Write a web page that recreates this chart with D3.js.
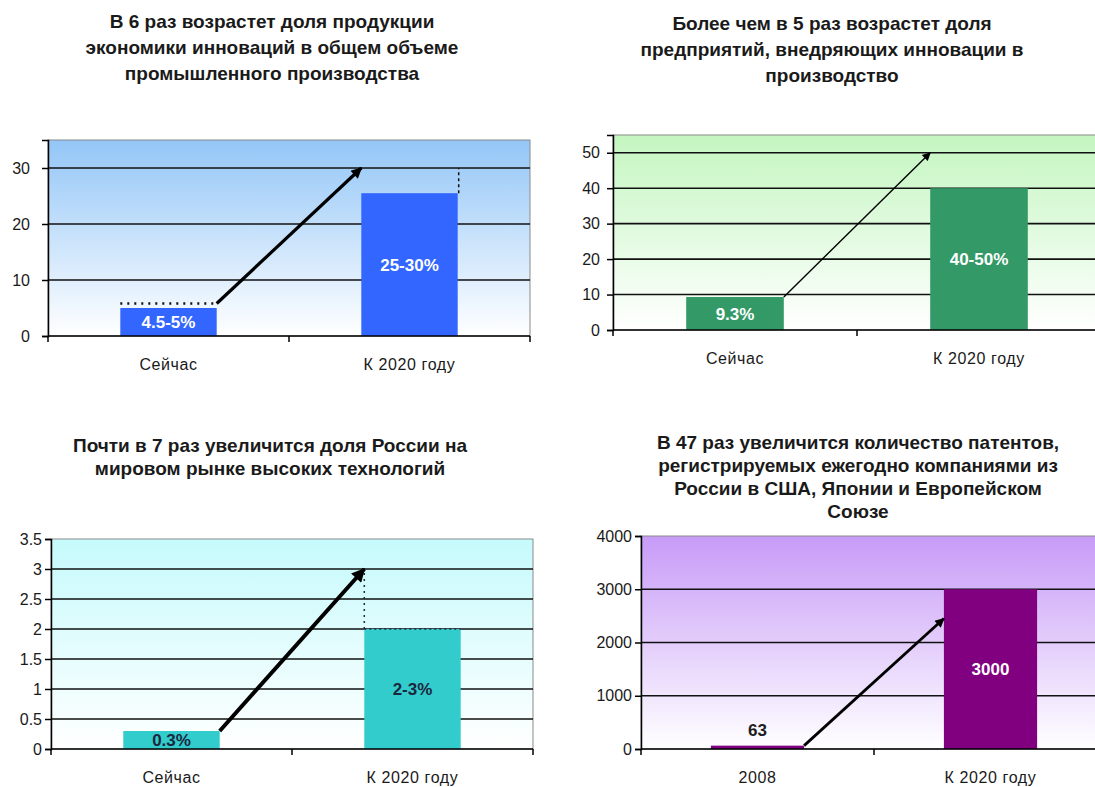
<!DOCTYPE html>
<html>
<head>
<meta charset="utf-8">
<script src="https://cdnjs.cloudflare.com/ajax/libs/d3/7.8.5/d3.min.js"></script>
<style>
  body { margin: 0; background: #fff; }
  svg { display: block; font-family: "Liberation Sans", Arial, sans-serif; }
</style>
</head>
<body>
<svg id="chart"></svg>
<script>
// --- data ---
const titles1 = ["В 6 раз возрастет доля продукции", "экономики инноваций в общем объеме", "промышленного производства"];
const cats1 = ["Сейчас", "К 2020 году"];
const vals1 = [5, 25.5];
const upper1 = [5.8, 30];
const labels1 = ["4.5-5%", "25-30%"];
const ticks1 = [0, 10, 20, 30];

const titles2 = ["Более чем в 5 раз возрастет доля", "предприятий, внедряющих инновации в", "производство"];
const cats2 = ["Сейчас", "К 2020 году"];
const vals2 = [9.3, 40];
const upper2 = [9.3, 50];
const labels2 = ["9.3%", "40-50%"];
const ticks2 = [0, 10, 20, 30, 40, 50];

const titles3 = ["Почти в 7 раз увеличится доля России на", "мировом рынке высоких технологий"];
const cats3 = ["Сейчас", "К 2020 году"];
const vals3 = [0.3, 2];
const upper3 = [0.3, 3];
const labels3 = ["0.3%", "2-3%"];
const ticks3 = [0, 0.5, 1, 1.5, 2, 2.5, 3, 3.5];

const titles4 = ["В 47 раз увеличится количество патентов,", "регистрируемых ежегодно компаниями из", "России в США, Японии и Европейском", "Союзе"];
const cats4 = ["2008", "К 2020 году"];
const vals4 = [63, 3000];
const upper4 = [63, 2450];
const labels4 = ["63", "3000"];
const ticks4 = [0, 1000, 2000, 3000, 4000];

const W = 1095, H = 787;
const svg = d3.select("#chart").attr("width", W).attr("height", H);
const defs = svg.append("defs");

const panels = [
  {id: "p1", titles: titles1, cats: cats1, vals: vals1, upper: upper1, labels: labels1, ticks: ticks1,
   yMax: 35, left: 48, right: 530, top: 140, bottom: 336, titleX: 272, titleY: 28, titleGap: 26,
   bg: "#93c6f7", bar: "#3366ff", labelColor: "#ffffff", labelPos: ["mid", "mid"], tickPad: 12,
   arrowW: 3.2, dotted: "p1", fmt: d3.format("d")},
  {id: "p2", titles: titles2, cats: cats2, vals: vals2, upper: upper2, labels: labels2, ticks: ticks2,
   yMax: 55, left: 613, right: 1101, top: 135, bottom: 330, titleX: 832, titleY: 30, titleGap: 26,
   bg: "#c4f6c0", bar: "#339966", labelColor: "#ffffff", labelPos: ["mid", "mid"], tickPad: 7,
   arrowW: 1.4, dotted: null, fmt: d3.format("d")},
  {id: "p3", titles: titles3, cats: cats3, vals: vals3, upper: upper3, labels: labels3, ticks: ticks3,
   yMax: 3.5, left: 51, right: 533, top: 539, bottom: 749, titleX: 270, titleY: 452, titleGap: 23,
   bg: "#c6fafc", bar: "#33cccc", labelColor: "#1c2740", labelPos: ["mid", "mid"], tickPad: 3,
   arrowW: 4, dotted: "p3", fmt: d => d},
  {id: "p4", titles: titles4, cats: cats4, vals: vals4, upper: upper4, labels: labels4, ticks: ticks4,
   yMax: 4000, left: 641, right: 1107, top: 536, bottom: 749, titleX: 858, titleY: 449, titleGap: 23,
   bg: "#c79bf7", bar: "#800080", labelColor: ["#1c1c1c", "#ffffff"], labelPos: ["above", "mid"], tickPad: 3,
   arrowW: 2.8, dotted: null, fmt: d3.format("d")}
];

panels.forEach(p => {
  const g = svg.append("g");

  // title
  g.append("text")
    .attr("x", p.titleX).attr("y", p.titleY)
    .attr("text-anchor", "middle")
    .attr("font-size", 19).attr("font-weight", "bold").attr("fill", "#1a1a1a")
    .selectAll("tspan").data(p.titles).join("tspan")
    .attr("x", p.titleX)
    .attr("dy", (d, i) => i === 0 ? 0 : p.titleGap)
    .text(d => d);

  const x = d3.scaleBand().domain(p.cats).range([p.left, p.right]).padding(0);
  const y = d3.scaleLinear().domain([0, p.yMax]).range([p.bottom, p.top]);
  const bw = x.bandwidth() * 0.4;
  const bx = d => x(d) + (x.bandwidth() - bw) / 2;

  // gradient background
  const grad = defs.append("linearGradient").attr("id", "bg-" + p.id)
    .attr("x1", 0).attr("y1", 0).attr("x2", 0).attr("y2", 1);
  grad.append("stop").attr("offset", "0%").attr("stop-color", p.bg);
  grad.append("stop").attr("offset", "100%").attr("stop-color", "#ffffff");

  g.append("rect")
    .attr("x", p.left).attr("y", y(p.yMax))
    .attr("width", p.right - p.left).attr("height", y(0) - y(p.yMax))
    .attr("fill", `url(#bg-${p.id})`)
    .attr("stroke", "#8a8a8a").attr("stroke-width", 1);

  // gridlines
  g.selectAll(".grid").data(p.ticks.filter(t => t > 0 && t < p.yMax)).join("line")
    .attr("x1", p.left).attr("x2", p.right)
    .attr("y1", d => y(d)).attr("y2", d => y(d))
    .attr("stroke", "#111").attr("stroke-width", 1.6);

  // bars
  g.selectAll(".bar").data(p.vals).join("rect")
    .attr("x", (d, i) => bx(p.cats[i]))
    .attr("y", d => y(d))
    .attr("width", bw)
    .attr("height", d => y(0) - y(d))
    .attr("fill", p.bar);

  // y axis
  const yAxis = d3.axisLeft(y).tickValues(p.ticks).tickSize(6).tickPadding(p.tickPad).tickFormat(p.fmt);
  const ya = g.append("g").attr("transform", `translate(${p.left},0)`).call(yAxis);
  ya.select(".domain").attr("stroke", "#000").attr("stroke-width", 1.5);
  ya.selectAll(".tick line").attr("stroke", "#000").attr("stroke-width", 1.5);
  ya.selectAll(".tick text").attr("font-size", 16).attr("fill", "#1a1a1a")
    .attr("font-family", "Liberation Sans, Arial, sans-serif");

  // x axis
  const xa = g.append("g").attr("transform", `translate(0,${y(0)})`);
  xa.append("line").attr("x1", p.left).attr("x2", p.right).attr("stroke", "#000").attr("stroke-width", 1.5);
  xa.selectAll(".xt").data(p.cats.map(c => x(c)).concat([p.right])).join("line")
    .attr("x1", d => d).attr("x2", d => d).attr("y1", 0).attr("y2", 6)
    .attr("stroke", "#000").attr("stroke-width", 1.5);
  xa.selectAll(".xl").data(p.cats).join("text")
    .attr("x", d => x(d) + x.bandwidth() / 2).attr("y", 34)
    .attr("text-anchor", "middle").attr("font-size", 16).attr("letter-spacing", 0.6)
    .attr("fill", "#1a1a1a")
    .text(d => d);

  // dotted range markers
  if (p.dotted === "p1") {
    g.append("line")
      .attr("x1", bx(p.cats[0])).attr("x2", bx(p.cats[0]) + bw)
      .attr("y1", y(p.upper[0])).attr("y2", y(p.upper[0]))
      .attr("stroke", "#111").attr("stroke-width", 2.5).attr("stroke-dasharray", "2,5");
    g.append("line")
      .attr("x1", bx(p.cats[1]) + bw + 1).attr("x2", bx(p.cats[1]) + bw + 1)
      .attr("y1", y(p.vals[1])).attr("y2", y(p.upper[1]))
      .attr("stroke", "#111").attr("stroke-width", 1.5).attr("stroke-dasharray", "3,3");
  }
  if (p.dotted === "p3") {
    g.append("line")
      .attr("x1", bx(p.cats[1])).attr("x2", bx(p.cats[1]) + bw)
      .attr("y1", y(p.vals[1])).attr("y2", y(p.vals[1]))
      .attr("stroke", "#1a2a3a").attr("stroke-width", 1.5).attr("stroke-dasharray", "2,3");
    g.append("line")
      .attr("x1", bx(p.cats[1])).attr("x2", bx(p.cats[1]))
      .attr("y1", y(p.vals[1])).attr("y2", y(p.upper[1]))
      .attr("stroke", "#1a2a3a").attr("stroke-width", 1.5).attr("stroke-dasharray", "2,4");
  }

  // arrow
  const hs = Math.max(10, p.arrowW * 4);
  defs.append("marker").attr("id", "ah-" + p.id)
    .attr("markerUnits", "userSpaceOnUse")
    .attr("viewBox", "0 0 10 10").attr("refX", 9).attr("refY", 5)
    .attr("markerWidth", hs).attr("markerHeight", hs * 0.85)
    .attr("orient", "auto")
    .append("path").attr("d", "M0,0 L10,5 L0,10 z").attr("fill", "#000");
  g.append("line")
    .attr("x1", bx(p.cats[0]) + bw).attr("y1", y(p.upper[0]))
    .attr("x2", bx(p.cats[1])).attr("y2", y(p.upper[1]))
    .attr("stroke", "#000").attr("stroke-width", p.arrowW)
    .attr("marker-end", `url(#ah-${p.id})`);

  // value labels
  g.selectAll(".vl").data(p.vals).join("text")
    .attr("x", (d, i) => bx(p.cats[i]) + bw / 2)
    .attr("y", (d, i) => p.labelPos[i] === "above" ? y(d) - 10 : (y(d) + y(0)) / 2 + 6)
    .attr("text-anchor", "middle").attr("font-size", 17).attr("font-weight", "bold")
    .attr("fill", (d, i) => Array.isArray(p.labelColor) ? p.labelColor[i] : p.labelColor)
    .text((d, i) => p.labels[i]);
});
</script>
</body>
</html>
